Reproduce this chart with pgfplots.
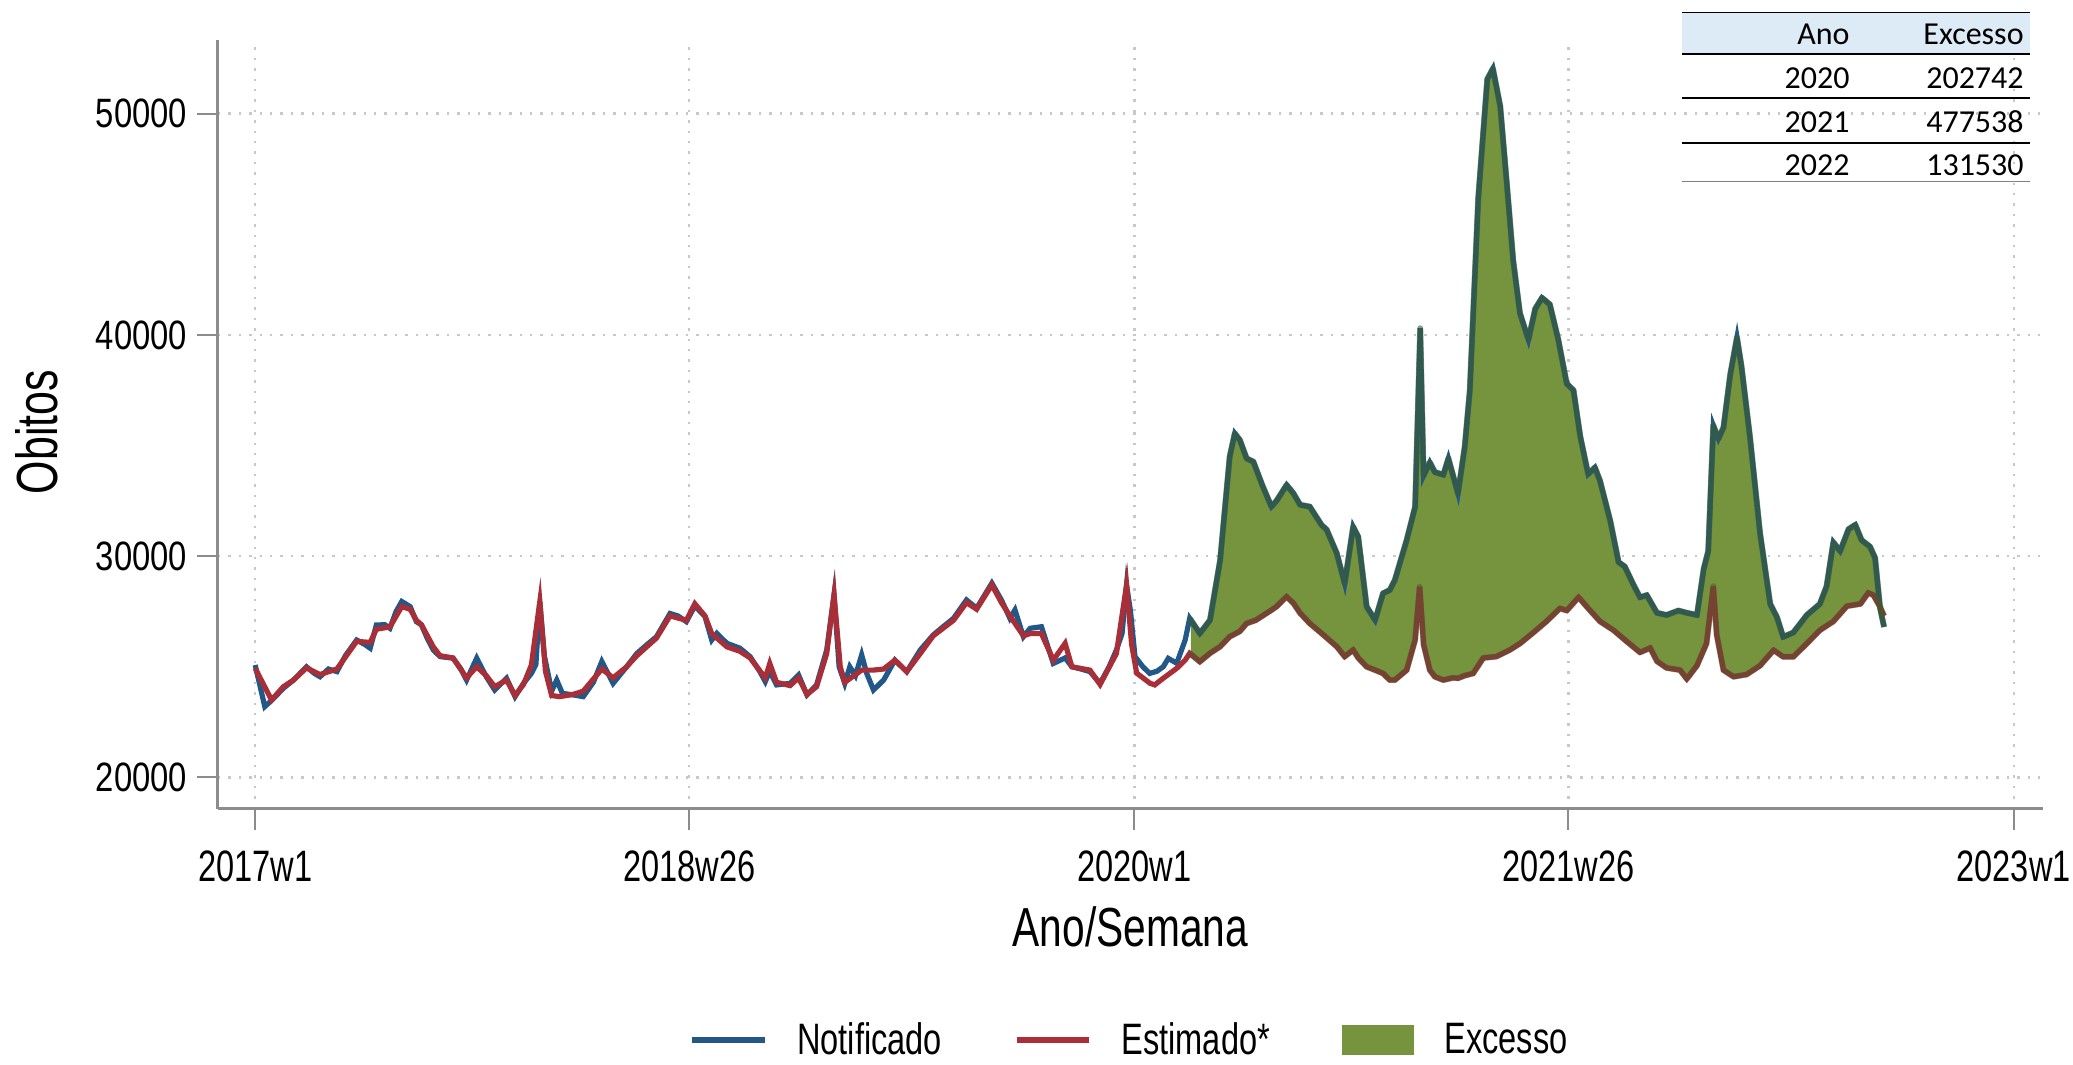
\documentclass[border=0pt]{standalone}
\usepackage{fontspec}
\usepackage{pgfplots}
\usepackage{pgfplotstable}
\pgfplotsset{compat=1.18}
\usepgfplotslibrary{fillbetween}
\newfontfamily\statafont{Liberation Sans}[FakeStretch=0.74]
\newfontfamily\statafontb{Liberation Sans}[FakeStretch=0.8]
\newfontfamily\tabfont{Carlito}
\definecolor{nblue}{RGB}{34,88,136}
\definecolor{ered}{RGB}{168,46,56}
\definecolor{xgreen}{RGB}{118,148,62}
\definecolor{xedge}{RGB}{58,92,44}
\definecolor{gridgray}{RGB}{200,200,200}
\definecolor{axgray}{RGB}{140,140,140}
\definecolor{hdrblue}{RGB}{221,235,247}

\pgfplotstableread{
w v
0 25080
1.7 23200
3 23500
5 24030
6.8 24400
9.1 25000
10.5 24700
11.5 24550
13 24900
14.5 24780
16 25500
18 26210
19.5 26000
20.4 25840
21.5 26890
23 26900
23.9 26740
25 27500
26 27950
27.5 27720
28.6 27040
29.5 26890
30.5 26300
31.6 25760
32.8 25460
35.1 25390
36.5 24900
37.5 24400
39.3 25390
41 24550
42.5 23950
44.6 24480
46.1 23650
47.6 24250
49 24700
49.8 25100
50.5 27950
51.3 25500
52.6 23900
53.5 24400
54.5 23800
56.4 23730
58.2 23650
60 24300
61.5 25240
63.5 24250
65.9 25000
67.7 25600
69.5 26000
71.2 26360
73.6 27410
75 27300
76.5 27040
78 27750
79.8 27270
81 26210
81.9 26510
83.7 26060
86 25840
87.8 25460
89.5 24800
90.5 24330
91.3 24800
92.5 24180
94.9 24250
96.4 24630
97.9 23730
99.6 24180
101.4 25760
102.7 28250
103.6 25000
104.6 24250
105.5 25000
106.5 24600
107.6 25540
108.5 24700
109.7 23950
111.5 24400
113.5 25300
115.6 24780
118 25760
120.3 26440
122 26800
123.9 27190
126.2 28020
128 27650
130.7 28780
132.4 28020
133.9 27190
134.8 27570
136.3 26360
137.5 26740
139.5 26810
141.6 25150
143.7 25400
144.9 25000
146.5 24900
148.1 24780
149.9 24250
151.5 25000
152.8 25760
153.8 26500
154.6 28700
155.3 27500
156.1 25460
157.5 25000
158.7 24700
160 24800
161.1 25000
162 25380
163.5 25160
165 26210
165.8 27190
167.6 26510
169.4 27110
171.2 29820
172.9 34500
173.8 35550
174.7 35250
175.9 34420
177.1 34270
178.7 33200
180.3 32240
181.2 32500
183 33220
184.2 32840
185.4 32320
187.1 32240
189.2 31410
190.1 31200
191.9 30130
193.3 28770
194.8 31330
195.7 30880
197.2 27720
198.7 27110
200.1 28320
201.3 28470
202.2 28920
204.3 30730
205.8 32240
206.7 40300
207.3 33640
208.4 34240
209.3 33800
210.8 33680
211.7 34420
213.4 32840
214.6 34950
215.5 37500
217 46200
218.6 51560
219.6 52040
220.9 50340
222.1 46750
223.2 43370
224.4 40980
225.9 39790
227.1 41180
228.3 41680
229.7 41380
231.2 39790
232.7 37800
233.9 37500
235.1 35410
236.5 33710
237.7 34010
238.6 33410
240.4 31620
241.9 29730
243.0 29530
244.5 28730
245.7 28140
246.9 28240
248.7 27440
250.4 27340
252.5 27540
254 27440
255.8 27340
257 29430
257.8 30230
258.7 35910
259.6 35310
260.5 35810
261.7 38200
262.9 39890
263.7 38590
265.2 35410
267 31030
268.8 27840
270 27240
271.1 26350
272.9 26550
275.3 27340
277.6 27840
278.8 28640
280 30630
281.2 30230
282.7 31220
283.9 31420
285.0 30730
286.5 30430
287.4 29930
288.3 27640
289 26800
}\notif

\pgfplotstableread{
w v
0 24930
2.9 23500
5 24100
6.8 24400
9.1 24950
11.5 24650
14.5 24900
18 26150
20.4 26100
21.5 26700
23.9 26800
26 27720
27.5 27600
28.6 27100
29.5 26900
31.6 25900
32.8 25500
35.1 25400
37.5 24500
39.3 25000
41 24600
42.5 24100
44.6 24400
46.1 23700
47.6 24200
49 25080
50.5 27950
51.5 24800
52.6 23700
54 23650
56.4 23750
58.2 23900
61.5 24900
63.5 24500
65.9 25000
67.7 25500
71.2 26300
73.6 27300
76.5 27100
78 27850
79.8 27300
81 26500
83.7 25900
86 25700
87.8 25400
90.5 24500
91.3 25150
92.5 24300
94.9 24150
96.4 24500
97.9 23750
99.6 24100
101.4 25600
102.7 28250
103.8 25000
104.6 24300
107.6 24850
109.7 24850
111.5 24900
113.5 25300
115.6 24780
118 25600
120.3 26400
123.9 27100
126.2 27900
128 27600
130.7 28700
132.4 27900
133.9 27300
136.3 26400
137.5 26500
139.5 26500
141.6 25300
143.7 26060
144.9 25000
148.1 24850
149.9 24200
152.8 25600
154.6 28700
155.5 26000
156.4 24710
158.8 24250
159.6 24180
161.1 24480
163.5 24930
165 25300
165.8 25610
167.6 25230
169.4 25610
171.2 25910
172.9 26360
174.7 26600
175.9 26960
177.5 27100
180.3 27560
181.2 27720
183 28170
184.2 27870
185.4 27420
187.1 26960
189.2 26510
191.9 25910
193.3 25460
194.8 25760
195.7 25400
197.2 25000
198.7 24850
200.1 24700
201.3 24400
202.2 24400
204.3 24850
205.8 26210
206.6 28620
207.3 26000
208.4 24850
209.3 24550
210.8 24400
212.5 24500
213.4 24480
214.6 24600
216.1 24700
217.9 25400
220.2 25460
222.6 25760
224.4 26050
226.8 26550
229.1 27050
231.5 27640
232.7 27540
234.8 28140
236.5 27640
238.6 27050
241 26650
243.3 26150
245.7 25650
247.5 25850
248.7 25250
250.4 24950
252.8 24850
254 24450
255.8 25050
257.5 26050
258.7 28640
259.3 26450
260.5 24850
262.3 24550
264.6 24650
267 25050
269.4 25750
271.1 25450
272.9 25450
275.3 26050
277.6 26650
280 27050
282.4 27740
284.8 27840
286.2 28340
287.1 28240
288.3 27700
289 27300
}\estim

\begin{document}
\begin{tikzpicture}
\begin{axis}[
  at={(0pt,0pt)}, anchor=south west,
  scale only axis, width=912.5pt, height=384.5pt,
  xmin=-6.6, xmax=317.2, ymin=18572, ymax=53331,
  axis x line=bottom, axis y line=left,
  axis line style={axgray, line width=1.5pt, -},
  xtick={0,77,156,233,312},
  xticklabels={2017w1,2018w26,2020w1,2021w26,2023w1},
  ytick={20000,30000,40000,50000},
  scaled y ticks=false,
  tick align=outside, major tick length=10.5pt,
  tick style={axgray, line width=1pt},
  xmajorgrids, ymajorgrids,
  grid style={gridgray, line width=1.2pt, dash pattern=on 1.2pt off 4pt},
  /pgf/number format/assume math mode=true,
  /pgf/number format/1000 sep={},
  yticklabel style={font=\statafontb\fontsize{20.5}{22}\selectfont, anchor=east, xshift=-1.4pt},
  xticklabel style={font=\statafont\fontsize{22}{24}\selectfont, yshift=-7pt},
  xlabel={Ano/Semana}, ylabel={Obitos},
  x label style={font=\statafont\fontsize{27.5}{30}\selectfont, at={(axis description cs:0.5,-0.1534)}, anchor=center},
  y label style={font=\statafont\fontsize{29}{32}\selectfont, at={(axis description cs:-0.0992,0.49)}, anchor=center},
  legend columns=3,
  legend style={draw=none, fill=none, at={(axis description cs:0.5,-0.3004)}, anchor=center,
    font=\statafont\fontsize{22}{24}\selectfont,
    /tikz/every even column/.append style={column sep=34pt}},
  legend cell align=left,
]
\addlegendimage{legend image code/.code={\draw[nblue, line width=2.6pt] (0pt,0pt) -- (36.4pt,0pt); \path[draw=none,fill=none] (0pt,0pt) -- (50.5pt,0pt);}}
\addlegendentry{Notificado}
\addlegendimage{legend image code/.code={\draw[ered, line width=2.6pt] (0pt,0pt) -- (36.4pt,0pt); \path[draw=none,fill=none] (0pt,0pt) -- (50.5pt,0pt);}}
\addlegendentry{Estimado*}
\addlegendimage{legend image code/.code={\fill[xgreen] (0pt,-7.25pt) rectangle (35.7pt,7.25pt); \path[draw=none,fill=none] (0pt,0pt) -- (49pt,0pt);}}
\addlegendentry{Excesso}

\addplot[nblue, line width=2.6pt, name path=N, forget plot] table[x=w,y=v]{\notif};
\addplot[ered, line width=2.6pt, name path=E, forget plot] table[x=w,y=v]{\estim};
\addplot[fill=xgreen, draw=none, forget plot]
  fill between[of=N and E, soft clip={domain=166:289}];
% darker green outline of the excess area, drawn over the two lines
\addplot[xedge, opacity=0.6, line width=3pt, line join=round, restrict x to domain=165.8:289, forget plot] table[x=w,y=v]{\notif};
\addplot[xedge, opacity=0.45, line width=3pt, line join=round, restrict x to domain=165.8:289, forget plot] table[x=w,y=v]{\estim};
\end{axis}

% table of excess deaths
\fill[hdrblue] (732pt,377.5pt) rectangle (906pt,398.2pt);
\draw[black, line width=0.6pt] (732pt,398.2pt) -- (906pt,398.2pt);
\draw[black, line width=1.2pt] (732pt,377.5pt) -- (906pt,377.5pt);
\draw[black, line width=1.2pt] (732pt,355.5pt) -- (906pt,355.5pt);
\draw[black, line width=1.2pt] (732pt,333pt) -- (906pt,333pt);
\draw[gray, line width=0.5pt] (732pt,313.5pt) -- (906pt,313.5pt);
\begin{scope}[every node/.style={anchor=base east, inner sep=0pt, font=\tabfont\fontsize{16}{19}\selectfont}]
\node at (816pt,382pt) {Ano};
\node at (903pt,382pt) {Excesso};
\node at (816pt,360pt) {2020};
\node at (903pt,360pt) {202742};
\node at (816pt,338pt) {2021};
\node at (903pt,338pt) {477538};
\node at (816pt,316.5pt) {2022};
\node at (903pt,316.5pt) {131530};
\end{scope}
\pgfresetboundingbox
\useasboundingbox (-109pt,-128pt) rectangle (927.5pt,404.5pt);
\end{tikzpicture}
\end{document}
